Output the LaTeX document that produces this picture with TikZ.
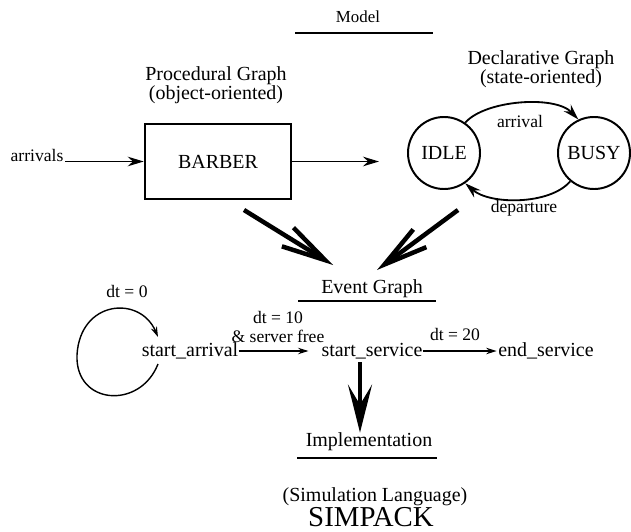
\documentclass[tikz,border=0pt]{standalone}
\usepackage{fontspec}
\setmainfont{Liberation Serif}
\usetikzlibrary{arrows.meta}
\newcommand{\hdr}{\fontsize{14.2}{13.5}\selectfont}
\newcommand{\lbl}{\fontsize{12.5}{13}\selectfont}

\begin{document}
\begin{tikzpicture}[x=0.025cm, y=-0.025cm, font=\hdr,
    flow/.style={-{Stealth[length=4mm,width=2.4mm]}, line width=1.3pt},
    eflow/.style={-{Stealth[length=2.6mm,width=1.6mm]}, line width=1pt},
    bigflow/.style={-{Straight Barb[length=11mm,width=5.5mm]}, line width=3.2pt},
    impl/.style={-{Stealth[length=12mm,width=6mm,inset=5mm]}, line width=3pt},
    uline/.style={line width=2pt},
    state/.style={draw, circle, line width=1.4pt, minimum size=1.8cm, inner sep=0pt}]
    \useasboundingbox (0,0) rectangle (631,532);

    % model level
    \node (model) [font=\fontsize{12}{14}\selectfont] at (358,17) {Model};
    \draw[uline] (295,33) -- (433,33);
    \node (proc) [align=center] at (216,85) {Procedural Graph\\(object-oriented)};
    \node (decl) [align=center] at (541,69) {Declarative Graph\\(state-oriented)};

    % procedural graph
    \node (barber) [draw, line width=1.8pt, minimum width=3.65cm, minimum height=1.875cm] at (218,161.5) {BARBER};
    \node (arrivals) [font=\lbl, inner sep=1pt] at (37,155) {arrivals};
    \draw[flow] (arrivals.east |- barber.west) -- (barber.west);

    % declarative graph
    \node (idle) [state] at (444,153) {IDLE};
    \node (busy) [state] at (594,153) {BUSY};
    \draw[flow] (idle.55) .. controls (485,100) and (555,95) .. (busy.115);
    \draw[flow] (busy.230) .. controls (550,205) and (490,205) .. (idle.305);
    \node (arrlbl) [font=\lbl] at (520,121) {arrival};
    \node (deplbl) [font=\lbl] at (524,208) {departure};
    \draw[flow, shorten >=7mm] (barber.east) -- (barber.east -| idle.west);

    % both lead to the event graph
    \coordinate (p1) at (244,210);
    \coordinate (p2) at (333,265);
    \coordinate (d1) at (458,210);
    \coordinate (d2) at (377,270);
    \draw[bigflow] (p1) -- (p2);
    \draw[bigflow] (d1) -- (d2);

    % event graph
    \node (evgraph) at (372,289) {Event Graph};
    \draw[uline] (298,301) -- (436,301);
    \node (sarr) [inner sep=0pt] at (190,351) {start\_arrival};
    \node (sserv) [inner sep=0pt] at (372,351) {start\_service};
    \node (eserv) [inner sep=0pt] at (546,351) {end\_service};
    \node (dt0) [font=\lbl] at (127,291) {dt = 0};
    \node (dt10) [font=\lbl, align=center] at (278,327) {dt = 10\\\& server free};
    \node (dt20) [font=\lbl] at (455,334) {dt = 20};
    \draw[eflow, shorten >=3.2mm] (sarr.east) -- (sserv.west);
    \draw[eflow, shorten >=1pt] (sserv.east) -- (eserv.west);
    \coordinate (loopout) at (158,364);
    \coordinate (loopin) at (158,337);
    \draw[eflow] (loopout) .. controls (140,410) and (75,405) .. (77,355)
        .. controls (80,300) and (140,295) .. (loopin);

    % implementation
    \node (implem) [inner sep=0pt] at (369,442) {Implementation};
    \coordinate (implin) at (360,362);
    \draw[impl] (implin) -- (implin |- implem.north);
    \draw[uline] (297,458) -- (437,458);
    \node (simlang) at (375,497) {(Simulation Language)};
    \node (simpack) [font=\fontsize{20.5}{22}\selectfont] at (371,517) {SIMPACK};
\end{tikzpicture}
\end{document}
